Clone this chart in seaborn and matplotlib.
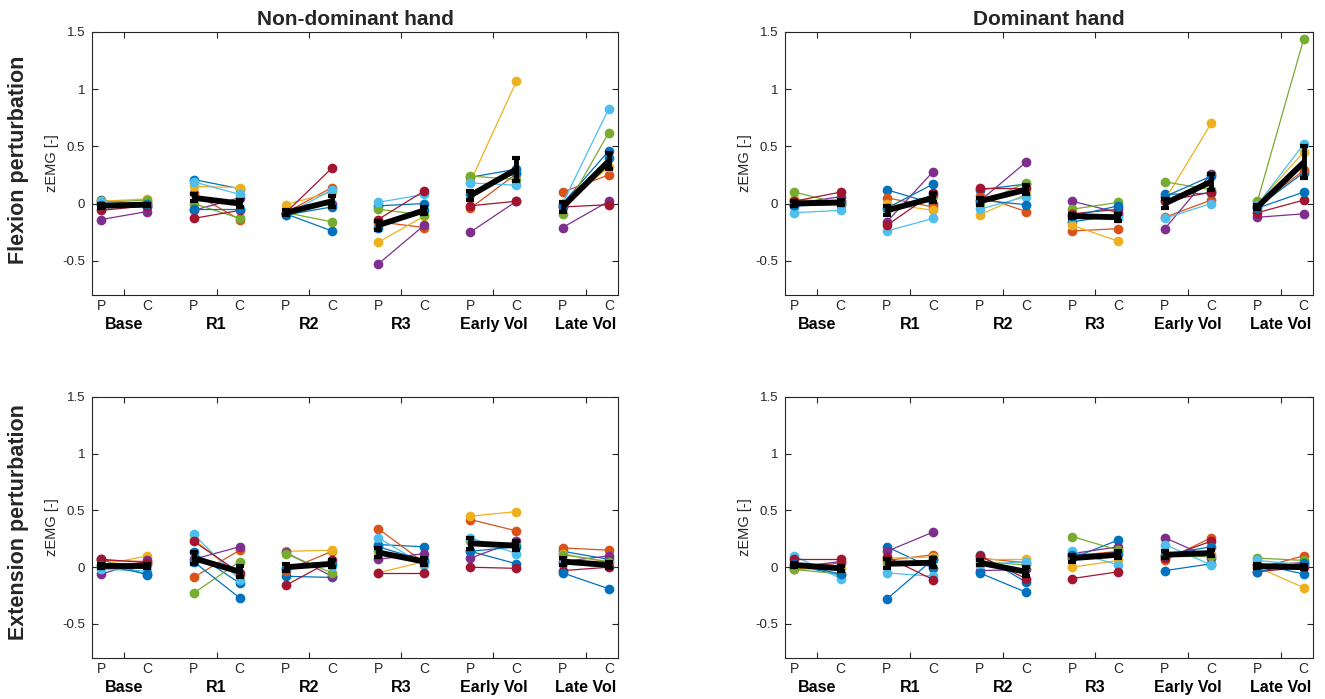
import numpy as np
import pandas as pd
import matplotlib
matplotlib.use("Agg")
import matplotlib.pyplot as plt
import matplotlib.transforms as mtransforms
import seaborn as sns

# ---------------- data ----------------
groups = ["Base", "R1", "R2", "R3", "Early Vol", "Late Vol"]
conds = ["P", "C"]
col_titles = ["Non-dominant hand", "Dominant hand"]
row_titles = ["Flexion perturbation", "Extension perturbation"]
ylabel = "zEMG [-]"
subject_colors = ["#0072BD", "#D95319", "#EDB120", "#7E2F8E",
                  "#77AC30", "#4DBEEE", "#A2142F", "#0072BD"]

# each row: one subject; values in order Base P, Base C, R1 P, R1 C, ... Late Vol C
flex_nondom = [
    [0.03, -0.03, 0.21, 0.13, -0.09, -0.24, -0.02, 0.00, 0.23, 0.30, 0.00, 0.46],
    [0.00, 0.01, 0.09, -0.14, -0.08, 0.14, -0.16, -0.21, -0.04, 0.26, 0.10, 0.25],
    [0.02, 0.04, 0.15, 0.14, -0.01, 0.10, -0.34, -0.11, 0.19, 1.07, -0.02, 0.32],
    [-0.14, -0.07, -0.06, 0.05, -0.08, 0.00, -0.53, -0.19, -0.25, 0.02, -0.21, 0.02],
    [0.01, 0.03, 0.00, -0.13, -0.08, -0.16, -0.05, -0.10, 0.24, 0.21, -0.09, 0.62],
    [0.01, -0.01, 0.19, 0.08, -0.10, 0.12, 0.01, 0.08, 0.18, 0.16, 0.00, 0.83],
    [-0.06, -0.02, -0.13, -0.06, -0.08, 0.31, -0.14, 0.11, -0.02, 0.02, -0.03, -0.01],
    [-0.01, 0.00, -0.05, -0.05, -0.10, -0.03, -0.21, -0.06, 0.08, 0.27, -0.02, 0.40],
]
flex_dom = [
    [-0.02, -0.01, 0.12, 0.00, 0.12, 0.17, -0.16, -0.10, 0.08, 0.09, -0.03, 0.27],
    [0.03, 0.02, 0.05, -0.03, 0.07, -0.07, -0.24, -0.22, -0.12, 0.03, -0.02, 0.29],
    [0.04, 0.00, 0.00, -0.06, -0.10, 0.08, -0.19, -0.33, 0.03, 0.70, 0.00, 0.45],
    [0.00, 0.06, -0.16, 0.28, 0.02, 0.36, 0.02, -0.08, -0.22, 0.26, -0.12, -0.09],
    [0.10, 0.00, -0.05, 0.07, 0.00, 0.18, -0.05, 0.01, 0.19, 0.12, 0.02, 1.44],
    [-0.08, -0.06, -0.24, -0.13, -0.05, 0.06, -0.12, -0.13, -0.13, 0.00, -0.01, 0.52],
    [0.02, 0.10, -0.19, 0.09, 0.14, 0.14, -0.09, -0.05, 0.02, 0.10, -0.08, 0.03],
    [-0.01, 0.01, -0.04, 0.17, 0.03, -0.01, -0.11, -0.02, 0.06, 0.24, -0.04, 0.10],
]
ext_nondom = [
    [0.07, -0.07, 0.13, -0.14, -0.08, -0.09, 0.20, 0.18, 0.14, 0.03, 0.14, 0.07],
    [0.06, 0.05, -0.09, 0.15, -0.03, 0.14, 0.34, 0.04, 0.42, 0.32, 0.17, 0.15],
    [0.02, 0.10, 0.25, -0.08, 0.14, 0.15, -0.05, 0.05, 0.45, 0.49, 0.12, 0.04],
    [-0.06, 0.06, 0.07, 0.18, 0.13, -0.08, 0.07, 0.12, 0.08, 0.23, 0.05, 0.10],
    [0.00, 0.02, -0.23, 0.05, 0.12, -0.05, 0.14, 0.05, 0.23, 0.20, 0.11, 0.05],
    [-0.02, -0.03, 0.29, -0.11, -0.01, 0.01, 0.26, 0.02, 0.26, 0.12, 0.03, 0.00],
    [0.07, 0.04, 0.23, -0.05, -0.16, 0.06, -0.05, -0.05, 0.00, -0.01, -0.03, 0.00],
    [0.02, -0.06, 0.05, -0.27, -0.01, 0.03, 0.18, 0.06, 0.14, 0.18, -0.05, -0.19],
]
ext_dom = [
    [0.02, -0.07, 0.18, -0.01, 0.11, -0.13, 0.08, 0.24, -0.03, 0.03, 0.03, -0.06],
    [-0.02, 0.04, 0.06, 0.11, 0.08, 0.04, 0.10, 0.14, 0.06, 0.26, -0.01, 0.10],
    [-0.02, -0.01, 0.08, 0.09, 0.07, 0.07, 0.00, 0.06, 0.10, 0.12, 0.00, -0.18],
    [0.00, 0.05, 0.14, 0.31, -0.03, -0.02, 0.12, 0.18, 0.26, 0.08, 0.02, 0.04],
    [-0.02, -0.06, 0.04, 0.06, 0.05, 0.02, 0.27, 0.15, 0.10, 0.10, 0.08, 0.06],
    [0.10, -0.10, -0.05, -0.08, 0.02, 0.05, 0.14, 0.02, 0.20, 0.02, 0.06, 0.02],
    [0.07, 0.07, 0.09, -0.11, 0.10, -0.10, -0.10, -0.04, 0.08, 0.23, -0.04, 0.00],
    [0.03, -0.06, -0.28, 0.07, -0.05, -0.22, 0.11, 0.12, 0.11, 0.18, -0.04, 0.04],
]

# group mean and error
mean_flex_nondom = [-0.02, -0.01, 0.05, 0.00, -0.08, 0.02, -0.19, -0.06, 0.07, 0.30, -0.03, 0.37]
err_flex_nondom = [0.02, 0.01, 0.03, 0.03, 0.02, 0.05, 0.04, 0.03, 0.04, 0.10, 0.04, 0.07]
mean_flex_dom = [0.00, 0.01, -0.06, 0.05, 0.02, 0.12, -0.11, -0.12, 0.00, 0.19, -0.03, 0.36]
err_flex_dom = [0.02, 0.02, 0.04, 0.04, 0.03, 0.04, 0.02, 0.03, 0.04, 0.07, 0.02, 0.14]
mean_ext_nondom = [0.01, 0.01, 0.08, -0.04, 0.00, 0.03, 0.13, 0.05, 0.21, 0.19, 0.05, 0.02]
err_ext_nondom = [0.02, 0.02, 0.05, 0.05, 0.03, 0.03, 0.04, 0.03, 0.05, 0.04, 0.03, 0.03]
mean_ext_dom = [0.02, -0.01, 0.03, 0.04, 0.04, -0.04, 0.08, 0.11, 0.11, 0.125, 0.01, 0.00]
err_ext_dom = [0.02, 0.02, 0.04, 0.04, 0.02, 0.04, 0.03, 0.03, 0.03, 0.03, 0.02, 0.02]

yticks = [-0.5, 0, 0.5, 1, 1.5]
ytick_labels = ["-0.5", "0", "0.5", "1", "1.5"]

# ---------------- style ----------------
sns.set_style("ticks")
plt.rcParams["font.family"] = ["Liberation Sans", "DejaVu Sans"]
dark = "#262626"

fig = plt.figure(figsize=(13.25, 6.99), dpi=100)
W, H = 1325, 699
ax_tl = fig.add_axes([92 / W, 1 - 295 / H, 526 / W, 263 / H])
ax_tr = fig.add_axes([785 / W, 1 - 295 / H, 528 / W, 263 / H])
ax_bl = fig.add_axes([92 / W, 1 - 658 / H, 526 / W, 261 / H])
ax_br = fig.add_axes([785 / W, 1 - 658 / H, 528 / W, 261 / H])

palette = {f"S{i+1}": c for i, c in enumerate(subject_colors)}


def draw(ax, values, mean, err):
    rows = []
    for s, vals in enumerate(values):
        for g in range(len(groups)):
            for k in range(2):
                rows.append(dict(x=2 * g + 1 + k, v=vals[2 * g + k],
                                 subj=f"S{s+1}", seg=s * 10 + g))
    df = pd.DataFrame(rows)
    sns.lineplot(data=df, x="x", y="v", hue="subj", units="seg",
                 estimator=None, palette=palette, marker="o", markersize=7,
                 markeredgewidth=0, linewidth=0.9, legend=False, ax=ax,
                 sort=False)
    for g in range(len(groups)):
        xs = [2 * g + 1, 2 * g + 2]
        ax.errorbar(xs, mean[2 * g:2 * g + 2], yerr=err[2 * g:2 * g + 2],
                    color="black", lw=4.2, elinewidth=3.5, capsize=3,
                    capthick=3, zorder=10, solid_capstyle="butt")
    ax.set_xlim(0.8, 12.2)
    ax.set_ylim(-0.8, 1.5)
    ax.set_xticks([2 * g + 1.5 for g in range(len(groups))])
    ax.set_xticklabels([])
    ax.set_yticks(yticks)
    ax.set_yticklabels(ytick_labels)
    ax.tick_params(direction="in", length=4, width=0.8, colors=dark,
                   labelsize=9.5, top=True, right=True, pad=5)
    for sp in ax.spines.values():
        sp.set_visible(True)
        sp.set_color(dark)
        sp.set_linewidth(0.8)
    ax.set_xlabel("")
    ax.set_ylabel(ylabel, fontsize=10.5, color=dark, labelpad=2)
    trans = mtransforms.blended_transform_factory(ax.transData, ax.transAxes)
    for g in range(len(groups)):
        for k, c in enumerate(conds):
            ax.text(2 * g + 1 + k, -0.015, c, transform=trans, ha="center",
                    va="top", fontsize=10, color=dark)
        ax.text(2 * g + 1.5, -0.085, groups[g], transform=trans,
                ha="center", va="top", fontsize=11.5, fontweight="bold",
                color="black")


draw(ax_tl, flex_nondom, mean_flex_nondom, err_flex_nondom)
draw(ax_tr, flex_dom, mean_flex_dom, err_flex_dom)
draw(ax_bl, ext_nondom, mean_ext_nondom, err_ext_nondom)
draw(ax_br, ext_dom, mean_ext_dom, err_ext_dom)

ax_tl.set_title(col_titles[0], fontsize=15, fontweight="bold", pad=5)
ax_tr.set_title(col_titles[1], fontsize=15, fontweight="bold", pad=5)

fig.text(19 / W, 1 - 160 / H, row_titles[0], rotation=90, ha="center",
         va="center", fontsize=15.5, fontweight="bold")
fig.text(19 / W, 1 - 522 / H, row_titles[1], rotation=90, ha="center",
         va="center", fontsize=15.5, fontweight="bold")

fig.savefig("out.png", dpi=100)
